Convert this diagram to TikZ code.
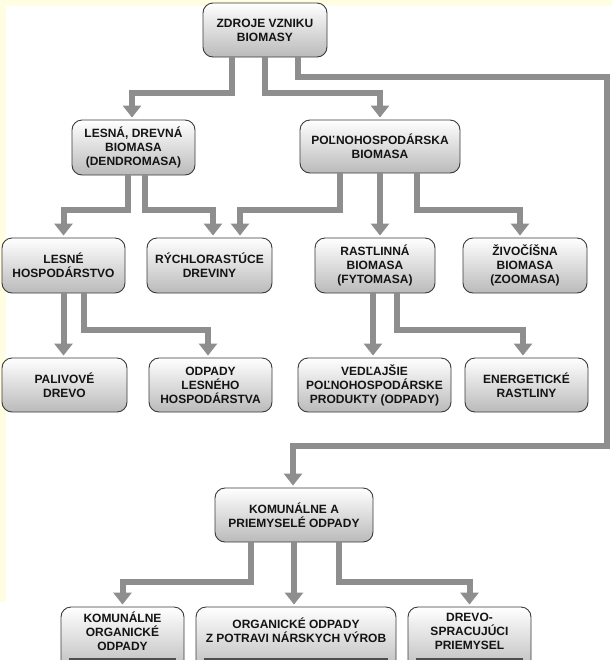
\documentclass[tikz,border=0pt]{standalone}
\usepackage{fontspec}
\setmainfont{Liberation Sans}
\usetikzlibrary{arrows.meta}
\definecolor{bgy}{HTML}{FFFDE2}
\definecolor{conncol}{HTML}{8E8E8E}
\definecolor{boxline}{HTML}{3A3A3A}
\definecolor{boxbot}{HTML}{BABABA}
\tikzset{
  box/.style={draw=boxline, line width=0.9pt, rounded corners=10pt,
    top color=white, bottom color=boxbot, align=center, inner sep=0pt,
    font=\bfseries\fontsize{12}{14}\selectfont, text=black!92},
  conn/.style={draw=conncol, line width=6pt,
    -{Triangle[width=18pt,length=12pt]}, shorten >=2pt},
  cutline/.style={draw=boxline!90, line width=2.5pt},
}
\begin{document}
\begin{tikzpicture}[x=1pt,y=-1pt]
\useasboundingbox (0,0) rectangle (612,665);
\fill[white] (0,0) rectangle (612,665);
\fill[bgy] (0,0) rectangle (612,6);
\fill[bgy] (0,0) rectangle (6,602);

% row 1
\node[box, minimum width=124pt, minimum height=54pt] (zdroj) at (265,30) {ZDROJE VZNIKU\\BIOMASY};
% row 2
\node[box, minimum width=123pt, minimum height=55pt] (lesna) at (133.5,147.5) {LESNÁ, DREVNÁ\\BIOMASA\\(DENDROMASA)};
\node[box, minimum width=160pt, minimum height=53pt] (polno) at (380,146.5) {POĽNOHOSPODÁRSKA\\BIOMASA};
% row 3
\node[box, minimum width=123pt, minimum height=55pt] (lhosp) at (63.5,265.5) {LESNÉ\\HOSPODÁRSTVO};
\node[box, minimum width=125pt, minimum height=55pt] (rychlo) at (209.5,265.5) {RÝCHLORASTÚCE\\DREVINY};
\node[box, minimum width=120pt, minimum height=55pt] (rastl) at (375,265.5) {RASTLINNÁ\\BIOMASA\\(FYTOMASA)};
\node[box, minimum width=124pt, minimum height=55pt] (zivo) at (525,265.5) {ŽIVOČÍŠNA\\BIOMASA\\(ZOOMASA)};
% row 4
\node[box, minimum width=125pt, minimum height=54pt] (paliv) at (64.5,385) {PALIVOVÉ\\DREVO};
\node[box, minimum width=123pt, minimum height=54pt] (odples) at (210.5,385) {ODPADY\\LESNÉHO\\HOSPODÁRSTVA};
\node[box, minimum width=153pt, minimum height=54pt] (vedl) at (374.5,385) {VEDĽAJŠIE\\POĽNOHOSPODÁRSKE\\PRODUKTY (ODPADY)};
\node[box, minimum width=123pt, minimum height=54pt] (energ) at (526.5,385) {ENERGETICKÉ\\RASTLINY};
% row 5
\node[box, minimum width=158pt, minimum height=54pt] (koma) at (294,515) {KOMUNÁLNE A\\PRIEMYSELÉ ODPADY};
% row 6 (cut at bottom)
\coordinate (cut) at (0,659);
\begin{scope}
\clip (0,0) rectangle (612,659);
\node[box, minimum width=123pt, minimum height=66pt] (komorg) at (122.5,640) {KOMUNÁLNE\\ORGANICKÉ\\ODPADY\\[4pt]};
\node[box, minimum width=200pt, minimum height=66pt] (orgodp) at (296,640) {ORGANICKÉ ODPADY\\Z POTRAVI NÁRSKYCH VÝROB\\[6pt]};
\node[box, minimum width=123pt, minimum height=66pt] (drevo) at (469.5,640) {DREVO-\\SPRACUJÚCI\\PRIEMYSEL\\[4pt]};
\end{scope}
\draw[cutline] ([xshift=8pt]komorg.west |- cut) -- ([xshift=-8pt]komorg.east |- cut);
\draw[cutline] ([xshift=8pt]orgodp.west |- cut) -- ([xshift=-8pt]orgodp.east |- cut);
\draw[cutline] ([xshift=8pt]drevo.west |- cut) -- ([xshift=-8pt]drevo.east |- cut);

% connectors
\coordinate (rc1) at (606.5,77);
\coordinate (rc2) at (606.5,446);
\draw[conn] ([xshift=-33pt]zdroj.south) -- ++(0,36) -| ([xshift=-1.5pt]lesna.north);
\draw[conn] (zdroj.south) -- ++(0,36) -| (polno.north);
\draw[conn] ([xshift=33pt]zdroj.south) |- (rc1) -- (rc2) -| ([xshift=-1pt]koma.north);

\draw[conn] ([xshift=-5.5pt]lesna.south) -- ++(0,35) -| (lhosp.north);
\draw[conn] ([xshift=11.5pt]lesna.south) -- ++(0,35) -| ([xshift=3.5pt]rychlo.north);
\draw[conn] ([xshift=-40pt]polno.south) -- ++(0,37) -| ([xshift=30.5pt]rychlo.north);
\draw[conn] (polno.south) -- (polno.south |- rastl.north);
\draw[conn] ([xshift=37pt]polno.south) -- ++(0,37) -| ([xshift=-5pt]zivo.north);

\draw[conn] (lhosp.south) -- (lhosp.south |- paliv.north);
\draw[conn] ([xshift=20.5pt]lhosp.south) -- ++(0,37) -| ([xshift=-2.5pt]odples.north);
\draw[conn] ([xshift=-2pt]rastl.south) -- ([xshift=-2pt]rastl.south |- vedl.north);
\draw[conn] ([xshift=22pt]rastl.south) -- ++(0,37) -| ([xshift=-3.5pt]energ.north);

\draw[conn] ([xshift=-43pt]koma.south) -- ++(0,40) -| (komorg.north);
\draw[conn] (koma.south) -- (koma.south |- orgodp.north);
\draw[conn] ([xshift=45pt]koma.south) -- ++(0,40) -| (drevo.north);
\end{tikzpicture}
\end{document}
